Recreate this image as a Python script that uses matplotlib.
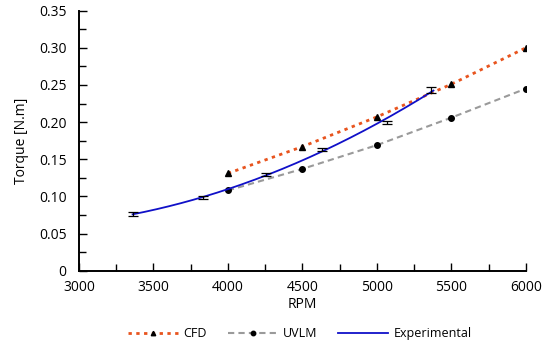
import numpy as np
import matplotlib
matplotlib.use("Agg")
import matplotlib.pyplot as plt
from matplotlib.ticker import MultipleLocator, FuncFormatter

plt.rcParams["font.family"] = ["Open Sans", "DejaVu Sans"]

# --- data ---
cfd_rpm = [4000, 4500, 5000, 5500, 6000]
cfd_torque = [0.131, 0.167, 0.207, 0.251, 0.300]
uvlm_rpm = [4000, 4500, 5000, 5500, 6000]
uvlm_torque = [0.108, 0.137, 0.169, 0.206, 0.245]
exp_rpm = [3360, 3830, 4255, 4630, 5065, 5365]
exp_torque = [0.076, 0.098, 0.129, 0.163, 0.200, 0.243]
exp_err = [0.003, 0.002, 0.002, 0.002, 0.002, 0.004]

fig = plt.figure(figsize=(5.5, 3.49), dpi=100)
ax = fig.add_axes([0.1436, 0.2244, 0.8124, 0.745])

ax.plot(cfd_rpm, cfd_torque, color="#E8541E", ls=(0, (1.2, 1.6)), lw=2.0,
        marker="^", mfc="black", mec="black", ms=4, label="CFD")
ax.plot(uvlm_rpm, uvlm_torque, color="#9a9a9a", ls=(0, (3, 2)), lw=1.5,
        marker="o", mfc="black", mec="black", ms=4, label="UVLM")

# smooth trend through experimental points
coef = np.polyfit(exp_rpm, exp_torque, 2)
xs = np.linspace(exp_rpm[0], exp_rpm[-1] + 15, 200)
ax.plot(xs, np.polyval(coef, xs), color="#1010C8", lw=1.3, label="Experimental")
ax.errorbar(exp_rpm, exp_torque, yerr=exp_err, fmt="none", ecolor="black",
            elinewidth=0.9, capsize=3.5, capthick=0.9)

ax.set_xlim(3000, 6000)
ax.set_ylim(0, 0.35)
ax.xaxis.set_major_locator(MultipleLocator(500))
ax.xaxis.set_minor_locator(MultipleLocator(250))
ax.yaxis.set_major_locator(MultipleLocator(0.05))
ax.yaxis.set_minor_locator(MultipleLocator(0.025))
ax.yaxis.set_major_formatter(FuncFormatter(lambda v, p: "0" if abs(v) < 1e-9 else f"{v:.2f}"))

for s in ["top", "right"]:
    ax.spines[s].set_visible(False)
for s in ["left", "bottom"]:
    ax.spines[s].set_linewidth(1.4)
ax.tick_params(which="both", direction="in", width=1.0, labelsize=10)
ax.tick_params(which="major", length=6)
ax.tick_params(which="minor", length=5)
ax.tick_params(axis="y", pad=9)
ax.tick_params(axis="x", pad=7)

ax.set_xlabel("RPM", fontsize=10, labelpad=1)
ax.set_ylabel("Torque [N.m]", fontsize=10, labelpad=7)

fig.legend(loc="center", bbox_to_anchor=(0.545, 0.043), ncol=3, frameon=False,
           fontsize=9, handlelength=4.0, columnspacing=1.7, numpoints=1,
           markerscale=0.8, handletextpad=0.4)

fig.savefig("out.png", dpi=100)
